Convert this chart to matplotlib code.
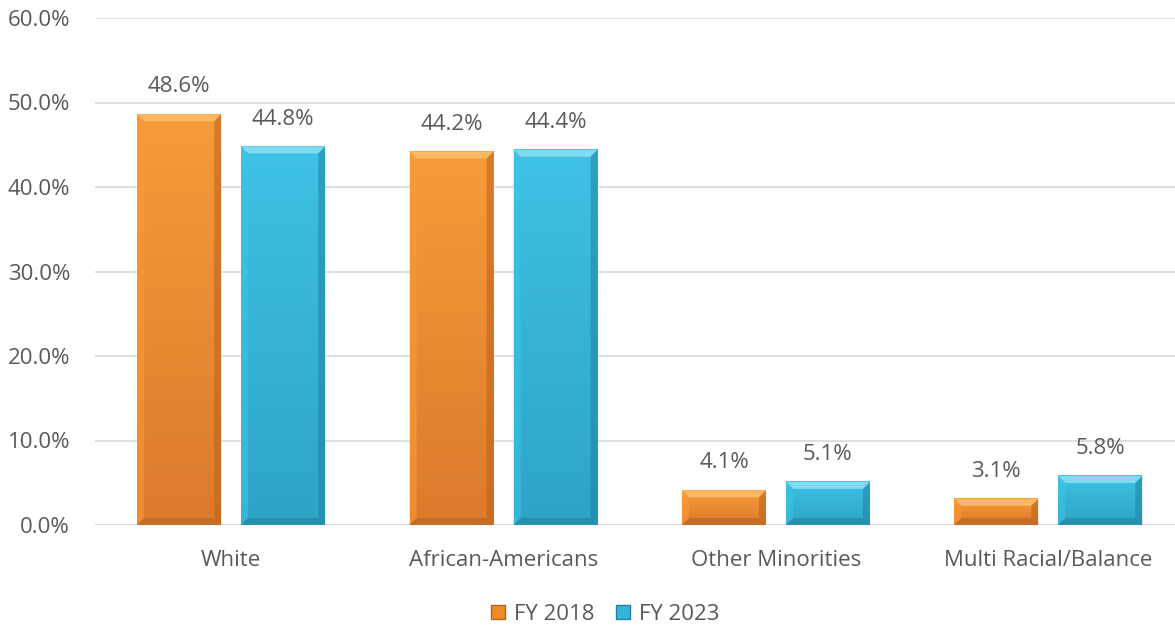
import numpy as np
import matplotlib.pyplot as plt
from matplotlib.patches import Polygon, Patch
from matplotlib.colors import LinearSegmentedColormap

plt.rcParams['font.family'] = ['Open Sans', 'DejaVu Sans']

categories = ['White', 'African-Americans', 'Other Minorities', 'Multi Racial/Balance']
fy2018 = [48.6, 44.2, 4.1, 3.1]
fy2023 = [44.8, 44.4, 5.1, 5.8]
series_names = ['FY 2018', 'FY 2023']

text_col = '#595959'
styles = {
    'FY 2018': dict(top='#F89B38', bot='#DC7A2B', light='#FBB862', dark='#B8621F', solid='#F08A24'),
    'FY 2023': dict(top='#3EC2E5', bot='#2CA4C7', light='#80DAF0', dark='#1E84A0', solid='#33B5DA'),
}

# plot area in pixels (right end runs a bit past the image edge)
left_px, right_px = 95, 1184.5
fig = plt.figure(figsize=(11.75, 6.29), dpi=100)
ax = fig.add_axes([left_px / 1175, 1 - 525 / 629, (right_px - left_px) / 1175, (525 - 18) / 629])
ax.set_xlim(-0.5, 3.5)
ax.set_ylim(0, 60)

px_x = 4 / (right_px - left_px)
px_y = 60 / 507
bw = 84 * px_x
off = 52 * px_x
bev_x = 7 * px_x
bev_y = 7 * px_y

x = np.arange(len(categories))


def draw_bar(xc, h, st):
    x0, x1 = xc - bw / 2, xc + bw / 2
    cmap = LinearSegmentedColormap.from_list('g', [st['bot'], st['top']])
    grad = np.linspace(0, 1, 100).reshape(-1, 1)
    ax.imshow(grad, cmap=cmap, origin='lower', aspect='auto',
              extent=(x0, x1, 0, h), zorder=3)
    dy = min(bev_y, h / 3)
    ax.add_patch(Polygon([(x0, h), (x1, h), (x1 - bev_x, h - dy), (x0 + bev_x, h - dy)],
                         closed=True, fc=st['light'], ec='none', zorder=4))
    ax.add_patch(Polygon([(x0, 0), (x0, h), (x0 + bev_x, h - dy), (x0 + bev_x, dy)],
                         closed=True, fc=st['top'], ec='none', alpha=0.6, zorder=4))
    ax.add_patch(Polygon([(x1, 0), (x1, h), (x1 - bev_x, h - dy), (x1 - bev_x, dy)],
                         closed=True, fc=st['dark'], ec='none', alpha=0.55, zorder=4))
    ax.add_patch(Polygon([(x0, 0), (x1, 0), (x1 - bev_x, dy), (x0 + bev_x, dy)],
                         closed=True, fc=st['dark'], ec='none', alpha=0.6, zorder=4))
    ax.text(xc, h + 2.0, f'{h:.1f}%', ha='center', va='bottom',
            fontsize=16, color=text_col, zorder=5)


for i in range(len(categories)):
    draw_bar(x[i] - off, fy2018[i], styles['FY 2018'])
    draw_bar(x[i] + off, fy2023[i], styles['FY 2023'])

ax.set_yticks(np.arange(0, 61, 10))
ax.set_yticklabels([f'{v:.1f}%' for v in range(0, 61, 10)])
ax.set_xticks(x)
ax.set_xticklabels(categories)
ax.tick_params(axis='both', length=0, labelsize=16, labelcolor=text_col)
ax.tick_params(axis='y', pad=18)
ax.tick_params(axis='x', pad=18)
ax.grid(axis='y', color='#D9D9D9', linewidth=1.2, zorder=0)
ax.set_axisbelow(True)
for s in ax.spines.values():
    s.set_visible(False)
ax.axhline(0, color='#D9D9D9', linewidth=1.5, zorder=2)

handles = [Patch(facecolor=styles[n]['solid'], edgecolor=styles[n]['dark'], label=n)
           for n in series_names]
fig.legend(handles=handles, loc='center', bbox_to_anchor=(0.515, 1 - 614 / 629), ncol=2,
           frameon=False, fontsize=16, labelcolor=text_col, handlelength=0.6,
           handleheight=0.6, handletextpad=0.4, columnspacing=1.0)

fig.savefig('out.png', dpi=100)
